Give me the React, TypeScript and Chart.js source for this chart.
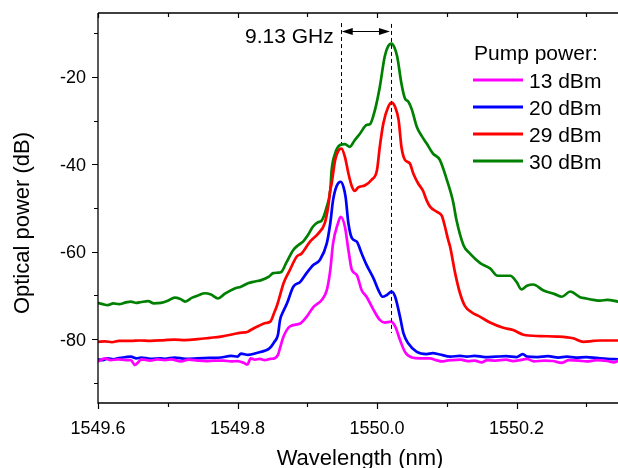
import React, { useEffect, useRef } from "react";
import { Chart, registerables } from "chart.js";

Chart.register(...registerables);

const FONT = '"Liberation Sans", Arial, Helvetica, sans-serif';

// ---------- data ----------
const seriesLabels = ["13 dBm", "20 dBm", "29 dBm", "30 dBm"];
const seriesColors = ["#ff00ff", "#0000ff", "#ff0000", "#008000"];

const wl13 = [
  1549.600, 1549.610, 1549.618, 1549.629, 1549.640, 1549.647, 1549.653, 1549.658, 1549.662, 1549.675,
  1549.685, 1549.696, 1549.705, 1549.719, 1549.730, 1549.743, 1549.755, 1549.767, 1549.780, 1549.791,
  1549.800, 1549.810, 1549.814, 1549.819, 1549.825, 1549.832, 1549.839, 1549.847, 1549.853, 1549.858,
  1549.861, 1549.866, 1549.875, 1549.890, 1549.899, 1549.909, 1549.921, 1549.928, 1549.933, 1549.937,
  1549.944, 1549.948, 1549.954, 1549.959, 1549.964, 1549.971, 1549.978, 1549.985, 1549.995, 1550.004,
  1550.011, 1550.020, 1550.026, 1550.033, 1550.040, 1550.050, 1550.062, 1550.076, 1550.085, 1550.093,
  1550.100, 1550.107, 1550.120, 1550.130, 1550.140, 1550.150, 1550.158, 1550.170, 1550.185, 1550.195,
  1550.205, 1550.215, 1550.225, 1550.240, 1550.252, 1550.265, 1550.275, 1550.290, 1550.300, 1550.315,
  1550.330, 1550.340, 1550.346,
];
const p13 = [
  -85.1, -84.4, -84.8, -84.6, -84.8, -84.8, -85.9, -85.2, -84.6, -84.9,
  -84.6, -84.8, -84.6, -85.1, -84.7, -84.9, -85.0, -84.9, -84.9, -85.1,
  -85.0, -85.5, -85.8, -84.4, -84.7, -84.5, -84.8, -84.5, -84.4, -83.6,
  -82.0, -79.4, -77.1, -76.4, -74.9, -72.6, -71.0, -68.8, -64.2, -58.1,
  -53.5, -52.0, -54.3, -59.6, -64.2, -65.3, -68.8, -70.3, -73.3, -75.6,
  -76.2, -76.0, -77.1, -80.2, -82.9, -84.2, -84.4, -84.4, -84.8, -85.1,
  -84.9, -84.8, -84.7, -85.0, -84.9, -85.3, -84.8, -84.9, -84.7, -85.0,
  -84.8, -84.5, -85.1, -84.9, -85.0, -85.4, -84.8, -84.9, -85.1, -84.8,
  -85.0, -85.3, -84.9,
];

const wl20 = [
  1549.600, 1549.607, 1549.614, 1549.622, 1549.630, 1549.640, 1549.647, 1549.655, 1549.662, 1549.675,
  1549.690, 1549.696, 1549.710, 1549.725, 1549.743, 1549.760, 1549.776, 1549.791, 1549.800, 1549.805,
  1549.815, 1549.829, 1549.840, 1549.846, 1549.853, 1549.858, 1549.861, 1549.866, 1549.871, 1549.880,
  1549.890, 1549.899, 1549.909, 1549.918, 1549.928, 1549.933, 1549.937, 1549.942, 1549.948, 1549.952,
  1549.955, 1549.959, 1549.964, 1549.971, 1549.978, 1549.985, 1549.995, 1550.002, 1550.008, 1550.014,
  1550.021, 1550.026, 1550.033, 1550.038, 1550.045, 1550.057, 1550.071, 1550.080, 1550.090, 1550.105,
  1550.119, 1550.129, 1550.140, 1550.155, 1550.170, 1550.185, 1550.200, 1550.209, 1550.215, 1550.230,
  1550.245, 1550.260, 1550.272, 1550.285, 1550.300, 1550.315, 1550.330, 1550.346,
];
const p20 = [
  -84.6, -84.8, -84.4, -84.6, -84.3, -84.1, -84.0, -84.4, -84.2, -84.5,
  -84.4, -84.5, -84.2, -84.5, -84.4, -84.3, -84.2, -83.8, -84.0, -83.3,
  -83.6, -83.1, -82.6, -82.1, -80.6, -79.0, -75.6, -73.5, -71.8, -68.0,
  -66.9, -64.9, -63.0, -61.9, -58.1, -53.5, -48.2, -45.0, -44.0, -45.2,
  -47.5, -53.5, -56.9, -57.7, -60.4, -63.0, -66.1, -68.8, -70.3, -69.9,
  -69.1, -70.3, -74.9, -78.7, -81.0, -82.9, -83.4, -83.2, -83.5, -84.0,
  -83.8, -84.0, -83.8, -84.1, -84.0, -83.9, -84.1, -83.4, -84.0, -84.1,
  -83.9, -84.2, -84.0, -84.2, -84.1, -84.3, -84.5, -84.6,
];

const wl29 = [
  1549.600, 1549.610, 1549.620, 1549.630, 1549.647, 1549.660, 1549.675, 1549.696, 1549.710, 1549.725,
  1549.743, 1549.760, 1549.776, 1549.790, 1549.801, 1549.815, 1549.819, 1549.830, 1549.840, 1549.847,
  1549.853, 1549.856, 1549.860, 1549.866, 1549.875, 1549.885, 1549.892, 1549.904, 1549.916, 1549.925,
  1549.930, 1549.933, 1549.935, 1549.940, 1549.945, 1549.949, 1549.954, 1549.959, 1549.964, 1549.968,
  1549.973, 1549.983, 1549.992, 1550.000, 1550.004, 1550.009, 1550.016, 1550.021, 1550.026, 1550.031,
  1550.035, 1550.040, 1550.047, 1550.052, 1550.059, 1550.066, 1550.071, 1550.076, 1550.086, 1550.093,
  1550.097, 1550.102, 1550.105, 1550.112, 1550.119, 1550.126, 1550.136, 1550.148, 1550.162, 1550.181,
  1550.195, 1550.210, 1550.234, 1550.258, 1550.281, 1550.296, 1550.310, 1550.320, 1550.346,
];
const p29 = [
  -80.6, -80.5, -80.7, -80.4, -80.4, -80.3, -80.4, -80.2, -80.1, -80.2,
  -80.0, -79.7, -79.4, -79.0, -78.6, -78.3, -77.9, -77.0, -76.3, -76.0,
  -73.8, -72.6, -70.5, -67.2, -64.2, -61.1, -60.4, -57.7, -55.8, -53.5,
  -49.7, -45.9, -44.4, -39.0, -36.8, -36.4, -38.3, -42.1, -45.1, -46.1,
  -45.3, -44.8, -43.6, -41.3, -36.0, -30.7, -26.9, -25.9, -26.9, -29.9,
  -36.0, -39.0, -39.8, -42.1, -44.4, -46.1, -48.2, -49.7, -50.9, -51.8,
  -54.0, -57.3, -59.0, -64.9, -69.5, -72.4, -73.9, -74.9, -76.2, -77.4,
  -77.9, -79.0, -79.3, -79.4, -79.8, -80.6, -80.4, -80.3, -80.3,
];

const wl30 = [
  1549.600, 1549.607, 1549.614, 1549.622, 1549.630, 1549.640, 1549.647, 1549.655, 1549.662, 1549.672,
  1549.680, 1549.690, 1549.700, 1549.710, 1549.718, 1549.725, 1549.735, 1549.745, 1549.753, 1549.762,
  1549.772, 1549.782, 1549.796, 1549.805, 1549.815, 1549.825, 1549.834, 1549.845, 1549.851, 1549.858,
  1549.863, 1549.870, 1549.880, 1549.887, 1549.894, 1549.901, 1549.908, 1549.915, 1549.921, 1549.928,
  1549.933, 1549.935, 1549.940, 1549.947, 1549.954, 1549.961, 1549.968, 1549.976, 1549.985, 1549.990,
  1549.997, 1550.004, 1550.011, 1550.016, 1550.021, 1550.025, 1550.029, 1550.035, 1550.040, 1550.045,
  1550.050, 1550.057, 1550.064, 1550.071, 1550.080, 1550.090, 1550.100, 1550.109, 1550.114, 1550.124,
  1550.133, 1550.148, 1550.162, 1550.173, 1550.191, 1550.200, 1550.207, 1550.215, 1550.224, 1550.238,
  1550.255, 1550.265, 1550.277, 1550.291, 1550.300, 1550.310, 1550.320, 1550.330, 1550.346,
];
const p30 = [
  -71.7, -72.0, -72.2, -71.8, -72.0, -71.6, -71.4, -71.7, -71.5, -71.3,
  -71.8, -71.7, -71.2, -70.5, -70.8, -71.4, -70.5, -69.9, -69.5, -69.8,
  -70.7, -69.6, -68.4, -68.0, -67.2, -66.8, -66.5, -65.7, -64.9, -64.8,
  -64.6, -62.5, -59.6, -58.5, -57.7, -56.2, -54.3, -53.3, -52.8, -49.7,
  -45.9, -41.3, -37.5, -35.6, -35.4, -36.0, -34.5, -32.9, -31.0, -30.8,
  -27.6, -22.3, -15.4, -13.0, -12.4, -13.3, -15.4, -21.5, -24.9, -25.7,
  -27.5, -31.4, -33.5, -35.2, -37.5, -39.0, -43.5, -48.5, -52.8, -58.5,
  -60.4, -62.6, -63.8, -65.5, -65.5, -66.9, -68.6, -67.8, -67.5, -68.8,
  -69.7, -70.3, -69.1, -70.4, -70.7, -71.0, -71.2, -71.0, -71.4,
];

const seriesWl = [wl13, wl20, wl29, wl30];
const seriesPower = [p13, p20, p29, p30];

const xMajorTicks = [1549.6, 1549.8, 1550.0, 1550.2];
const xTickLabels = ["1549.6", "1549.8", "1550.0", "1550.2"];
const xMinorTicks = [1549.7, 1549.9, 1550.1, 1550.3];
const yMajorTicks = [-80, -60, -40, -20];
const yTickLabels = ["-80", "-60", "-40", "-20"];
const yMinorTicks = [-90, -70, -50, -30, -10];
const xRange = [1549.6, 1550.3455];
const yRange = [-94.6, -5.4];

const markerWl = [1549.948, 1550.02];
const markerTop = [-7.7, -7.9];
const markerBottom = [-35.2, -78.6];
const arrowLevel = -9.6;
const spacingLabel = "9.13 GHz";

const legendTitle = "Pump power:";
const xTitle = "Wavelength (nm)";
const yTitle = "Optical power (dB)";

// ---------- drawing plugin ----------
const decorPlugin = {
  id: "decor",
  afterDatasetsDraw(chart: any) {
    const { ctx, chartArea: ca, scales } = chart;
    const xs = scales.x;
    const ys = scales.y;
    ctx.save();
    ctx.strokeStyle = "#000";
    ctx.fillStyle = "#000";

    // axis lines
    ctx.lineWidth = 1.3;
    ctx.beginPath();
    ctx.moveTo(ca.left, ca.top);
    ctx.lineTo(ca.left, ca.bottom);
    ctx.lineTo(ca.right, ca.bottom);
    ctx.moveTo(ca.left, ca.top);
    ctx.lineTo(ca.right, ca.top);
    ctx.stroke();

    // ticks
    ctx.lineWidth = 1.2;
    ctx.beginPath();
    xMajorTicks.forEach((v) => {
      const px = Math.round(xs.getPixelForValue(v)) + 0.5;
      ctx.moveTo(px, ca.bottom);
      ctx.lineTo(px, ca.bottom + 6);
      ctx.moveTo(px, ca.top);
      ctx.lineTo(px, ca.top + 5);
    });
    xMinorTicks.forEach((v) => {
      const px = Math.round(xs.getPixelForValue(v)) + 0.5;
      ctx.moveTo(px, ca.bottom);
      ctx.lineTo(px, ca.bottom + 4);
      ctx.moveTo(px, ca.top);
      ctx.lineTo(px, ca.top + 4);
    });
    yMajorTicks.forEach((v) => {
      const py = Math.round(ys.getPixelForValue(v)) + 0.5;
      ctx.moveTo(ca.left, py);
      ctx.lineTo(ca.left - 6, py);
    });
    yMinorTicks.forEach((v) => {
      const py = Math.round(ys.getPixelForValue(v)) + 0.5;
      ctx.moveTo(ca.left, py);
      ctx.lineTo(ca.left - 4, py);
    });
    ctx.stroke();

    // tick labels
    ctx.font = `18px ${FONT}`;
    ctx.textBaseline = "alphabetic";
    ctx.textAlign = "center";
    xMajorTicks.forEach((v, i) => {
      ctx.fillText(xTickLabels[i], xs.getPixelForValue(v), ca.bottom + 30.5);
    });
    ctx.textAlign = "right";
    yMajorTicks.forEach((v, i) => {
      ctx.fillText(yTickLabels[i], ca.left - 12, ys.getPixelForValue(v) + 6.5);
    });

    // axis titles
    ctx.font = `22px ${FONT}`;
    ctx.textAlign = "center";
    ctx.fillText(xTitle, (ca.left + ca.right) / 2 + 2, ca.bottom + 62);
    ctx.save();
    ctx.translate(29, ca.top + 210);
    ctx.rotate(-Math.PI / 2);
    ctx.fillText(yTitle, 0, 0);
    ctx.restore();

    // dashed markers
    ctx.lineWidth = 1;
    ctx.setLineDash([4, 3]);
    ctx.beginPath();
    markerWl.forEach((w, i) => {
      const px = Math.round(xs.getPixelForValue(w)) + 0.5;
      ctx.moveTo(px, ys.getPixelForValue(markerTop[i]));
      ctx.lineTo(px, ys.getPixelForValue(markerBottom[i]));
    });
    ctx.stroke();
    ctx.setLineDash([]);

    // double arrow
    const ax1 = xs.getPixelForValue(markerWl[0]) + 1;
    const ax2 = xs.getPixelForValue(markerWl[1]) - 1;
    const ay = Math.round(ys.getPixelForValue(arrowLevel)) + 0.5;
    ctx.lineWidth = 1.2;
    ctx.beginPath();
    ctx.moveTo(ax1 + 6, ay);
    ctx.lineTo(ax2 - 6, ay);
    ctx.stroke();
    ctx.beginPath();
    ctx.moveTo(ax1, ay);
    ctx.lineTo(ax1 + 11, ay - 3.5);
    ctx.lineTo(ax1 + 11, ay + 3.5);
    ctx.closePath();
    ctx.moveTo(ax2, ay);
    ctx.lineTo(ax2 - 11, ay - 3.5);
    ctx.lineTo(ax2 - 11, ay + 3.5);
    ctx.closePath();
    ctx.fill();

    ctx.font = `21px ${FONT}`;
    ctx.textAlign = "right";
    ctx.fillText(spacingLabel, ax1 - 8, ay + 11);

    // legend
    ctx.font = `21px ${FONT}`;
    ctx.textAlign = "left";
    ctx.fillText(legendTitle, ca.left + 376, ca.top + 47);
    ctx.lineWidth = 3;
    seriesLabels.forEach((lab, i) => {
      const ly = ca.top + 67 + i * 27;
      ctx.strokeStyle = seriesColors[i];
      ctx.beginPath();
      ctx.moveTo(ca.left + 375, ly);
      ctx.lineTo(ca.left + 425, ly);
      ctx.stroke();
      ctx.fillStyle = "#000";
      ctx.fillText(lab, ca.left + 431, ly + 7.5);
    });

    ctx.restore();
  },
};

export default function App() {
  const ref = useRef<HTMLCanvasElement | null>(null);

  useEffect(() => {
    if (!ref.current) return;
    const datasets = seriesLabels.map((lab, i) => ({
      label: lab,
      data: seriesWl[i].map((x, j) => ({ x, y: seriesPower[i][j] })),
      borderColor: seriesColors[i],
      backgroundColor: seriesColors[i],
      borderWidth: 2.7,
      pointRadius: 0,
      cubicInterpolationMode: "monotone" as const,
      fill: false,
    }));
    const chart = new Chart(ref.current, {
      type: "line",
      data: { datasets },
      options: {
        responsive: false,
        animation: false,
        devicePixelRatio: 1,
        layout: { padding: { top: 13, left: 0, right: 0, bottom: 0 } },
        plugins: { legend: { display: false }, tooltip: { enabled: false } },
        scales: {
          x: {
            type: "linear",
            min: xRange[0],
            max: xRange[1],
            grid: { display: false },
            border: { display: false },
            ticks: { display: false },
            afterFit: (s: any) => {
              s.height = 65;
              s.paddingLeft = 0;
              s.paddingRight = 0;
            },
          },
          y: {
            type: "linear",
            min: yRange[0],
            max: yRange[1],
            grid: { display: false },
            border: { display: false },
            ticks: { display: false },
            afterFit: (s: any) => {
              s.width = 98;
              s.paddingTop = 0;
              s.paddingBottom = 0;
            },
          },
        },
      },
      plugins: [decorPlugin],
    });
    return () => chart.destroy();
  }, []);

  return (
    <div style={{ position: "absolute", left: 0, top: 0, width: 618, height: 468, background: "#fff" }}>
      <canvas ref={ref} width={618} height={468} style={{ width: 618, height: 468, display: "block" }} />
    </div>
  );
}
